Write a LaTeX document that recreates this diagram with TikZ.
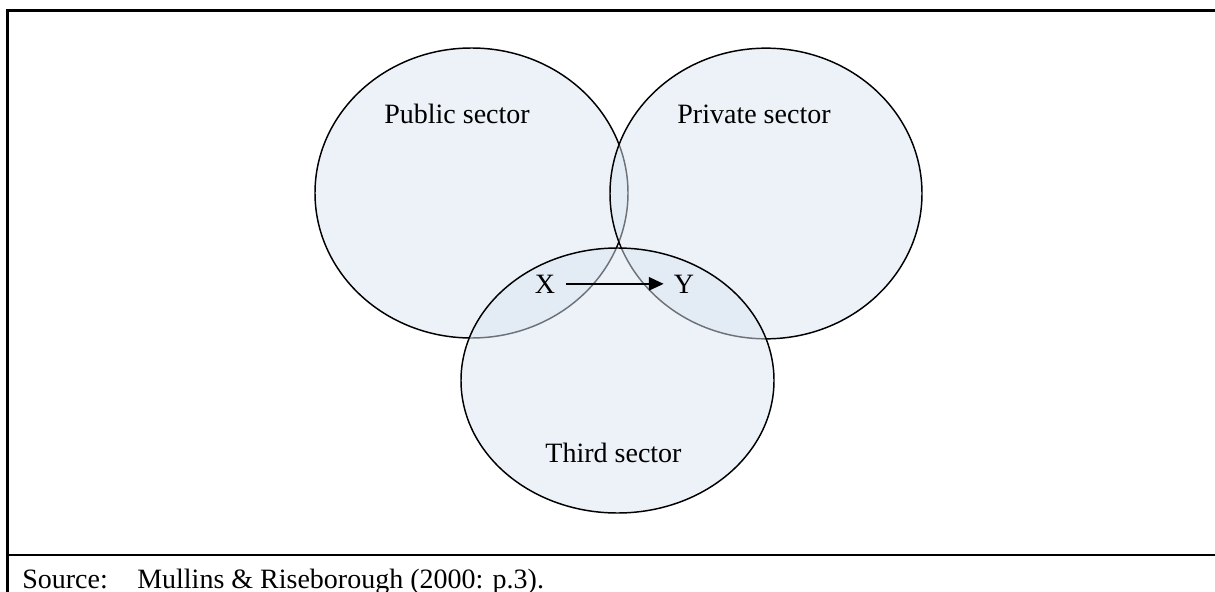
\documentclass[tikz,border=0pt]{standalone}
\usepackage{fontspec}
\setmainfont{Liberation Serif}
\usetikzlibrary{shapes.geometric,arrows.meta}
\definecolor{sectorfill}{RGB}{218,229,242}
\tikzset{
  sector/.style={ellipse, draw=black, line width=1.1pt, fill=sectorfill, fill opacity=0.5, draw opacity=1, inner sep=0pt},
  label/.style={font=\fontsize{21pt}{24pt}\selectfont, anchor=base, inner sep=0pt},
  frameline/.style={line width=1.6pt, line cap=rect},
  flow/.style={line width=1.1pt, -{Triangle[length=11pt,width=10pt]}}
}
\begin{document}
\begin{tikzpicture}[x=0.75pt,y=-0.75pt]
\useasboundingbox (0,0) rectangle (1215,592);
% frame
\coordinate (tl) at (7.5,10.5);
\coordinate (tr) at (1215,10.5);
\coordinate (bl) at (7.5,555);
\coordinate (br) at (1215,555);
\coordinate (lb) at (7.5,592);
\draw[frameline] (tr) -- (tl) -- (lb);
\draw[frameline] (bl) -- (br);
% ellipses
\node[sector, minimum width=234.75pt, minimum height=217.5pt] (public) at (471.5,193) {};
\node[sector, minimum width=234pt, minimum height=218pt] (private) at (766,193.5) {};
\node[sector, minimum width=234.75pt, minimum height=198.75pt] (third) at (617.5,380.5) {};
% labels
\node[label] (publ) at (457,124) {Public sector};
\node[label] (privl) at (754,124) {Private sector};
\node[label] (thirdl) at (613.5,462) {Third sector};
\node[label, inner sep=8pt] (X) at (545,293) {X};
\node[label, inner sep=7.5pt] (Y) at (684,293) {Y};
\draw[flow] (X.east) -- (Y.west);
% source
\node[label, anchor=base west] (src) at (22,588) {Source:};
\node[label, anchor=base west] (ref) at (137,588) {Mullins \& Riseborough (2000: p.3).};
\end{tikzpicture}
\end{document}
